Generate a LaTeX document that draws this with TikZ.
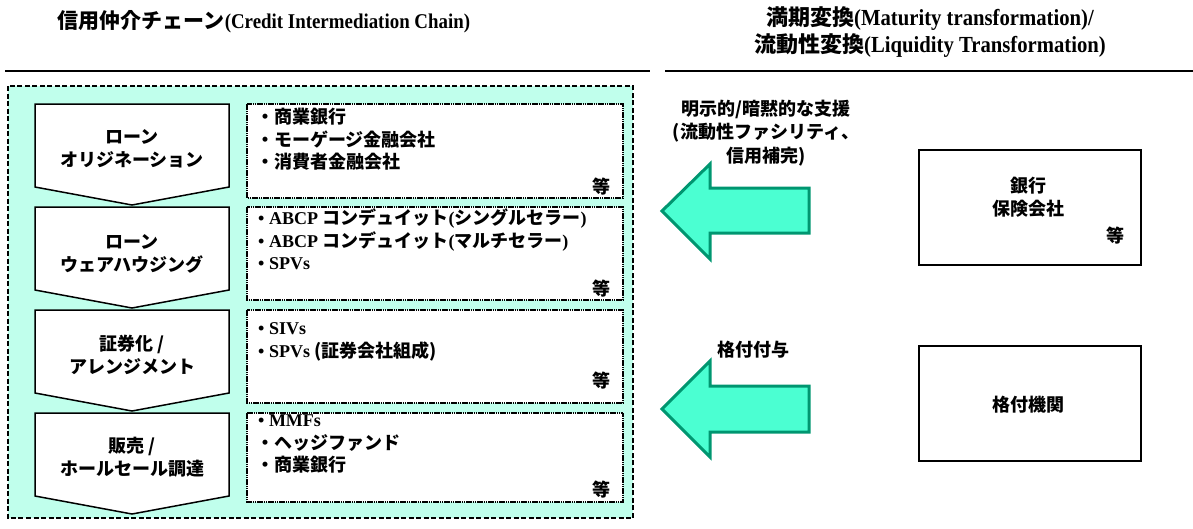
\documentclass[tikz,border=0pt]{standalone}
\usepackage{fontspec}
\setmainfont{Liberation Serif}
\newfontfamily\tmc{Liberation Serif}[FakeStretch=0.9]
\newfontfamily\jpf{Noto Sans CJK JP}
\newcommand\J{\jpf\bfseries}
\newcommand\T{\rmfamily\bfseries}
\newcommand\TC{\tmc\bfseries}
\definecolor{chainbg}{RGB}{192,255,236}
\definecolor{arrfill}{RGB}{75,255,210}
\definecolor{arrline}{RGB}{0,150,112}
\tikzset{
  chev/.style={draw=black, fill=white, line width=1.5pt, line join=miter},
  rbox/.style={draw=black, fill=white, line width=1.6pt, dash pattern=on 1.6pt off 0.6pt},
  item/.style={anchor=west, inner sep=0pt, font=\fontsize{18}{20}\selectfont},
  etc/.style={anchor=east, inner sep=0pt, font=\J\fontsize{18}{20}\selectfont},
  chevtext/.style={align=center, inner sep=0pt, font=\J\fontsize{18}{23}\selectfont},
  blockarrow/.style={draw=arrline, fill=arrfill, line width=3pt, line join=miter},
  bigbox/.style={draw=black, fill=white, line width=2pt, minimum width=222pt, minimum height=115pt, inner sep=0pt},
  lbl/.style={align=center, inner sep=0pt, font=\J\fontsize{18}{23.5}\selectfont},
}
\begin{document}
\begin{tikzpicture}[x=1pt, y=-1pt]
\useasboundingbox (0,0) rectangle (1193,528);

% titles
\node[inner sep=0pt] (t1) at (264,22)
  {\J\fontsize{21}{24}\selectfont 信用仲介チェーン\TC\fontsize{21}{24}\selectfont(Credit Intermediation Chain)};
\node[align=center, inner sep=0pt, font=\fontsize{22}{27}\selectfont] (t2) at (930,32)
  {\J 満期変換\TC\fontsize{23}{27}\selectfont(Maturity transformation)/\\ \J 流動性変換\TC\fontsize{23}{27}\selectfont(Liquidity Transformation)};
\coordinate (l1a) at (5,71); \coordinate (l1b) at (650,71);
\coordinate (l2a) at (665,71); \coordinate (l2b) at (1193,71);
\draw[line width=2pt] (l1a) -- (l1b);
\draw[line width=2pt] (l2a) -- (l2b);

% chain background
\coordinate (bgA) at (8,86); \coordinate (bgB) at (633,518);
\draw[fill=chainbg, line width=1.5pt, dash pattern=on 5pt off 2.5pt] (bgA) rectangle (bgB);

% chevrons
\foreach \t in {104,207,310,413}{
  \draw[chev] (35,\t) -- (229,\t) -- (229,\t+83) -- (132,\t+101) -- (35,\t+83) -- cycle;
}
\node[chevtext] (c1) at (132,149) {ローン\\オリジネーション};
\node[chevtext] (c2) at (132,254) {ローン\\ウェアハウジング};
\node[chevtext] (c3) at (132,355) {証券化 /\\アレンジメント};
\node[chevtext] (c4) at (132,457) {販売 /\\ホールセール調達};

% right boxes
\draw[rbox] (247,104) rectangle (623,198);
\draw[rbox] (247,207) rectangle (623,300);
\draw[rbox] (247,310) rectangle (623,403);
\draw[rbox] (247,413) rectangle (623,502);

\node[item] (r1a) at (256,117) {\J ・商業銀行};
\node[item] (r1b) at (256,140) {\J ・モーゲージ金融会社};
\node[item] (r1c) at (256,162) {\J ・消費者金融会社};
\node[etc] (e1) at (611,187) {等};

\node[item] (r2a) at (258,219) {\T• ABCP \J コンデュイット\T(\J シングルセラー\T)};
\node[item] (r2b) at (258,242) {\T• ABCP \J コンデュイット\T(\J マルチセラー\T)};
\node[item] (r2c) at (258,264) {\T• SPVs};
\node[etc] (e2) at (611,289) {等};

\node[item] (r3a) at (258,329) {\T• SIVs};
\node[item] (r3b) at (258,351) {\T• SPVs \J (証券会社組成)};
\node[etc] (e3) at (611,381) {等};

\node[item] (r4a) at (258,421) {\T• MMFs};
\node[item] (r4b) at (256,443) {\J ・ヘッジファンド};
\node[item] (r4c) at (256,465) {\J ・商業銀行};
\node[etc] (e4) at (611,490) {等};

% right side boxes
\node[bigbox] (bank) at (1030,207.5) {};
\node[chevtext] (bankt) at (1028,197) {銀行\\保険会社};
\node[etc] (banke) at (1125,236) {等};
\node[bigbox] (rating) at (1030,403.5) {};
\node[chevtext] (ratingt) at (1028,405) {格付機関};

% block arrows
\draw[blockarrow] (662,211) -- (710,164) -- (710,188) -- (809,188) -- (809,233) -- (710,233) -- (710,259) -- cycle;
\draw[blockarrow] (662,409) -- (710,361) -- (710,386) -- (809,386) -- (809,432) -- (710,432) -- (710,457) -- cycle;

\node[lbl] (lab1) at (766,133) {明示的/暗黙的な支援\\(流動性ファシリティ、\\信用補完)};
\node[lbl] (lab2) at (753,350) {格付付与};
\end{tikzpicture}
\end{document}
